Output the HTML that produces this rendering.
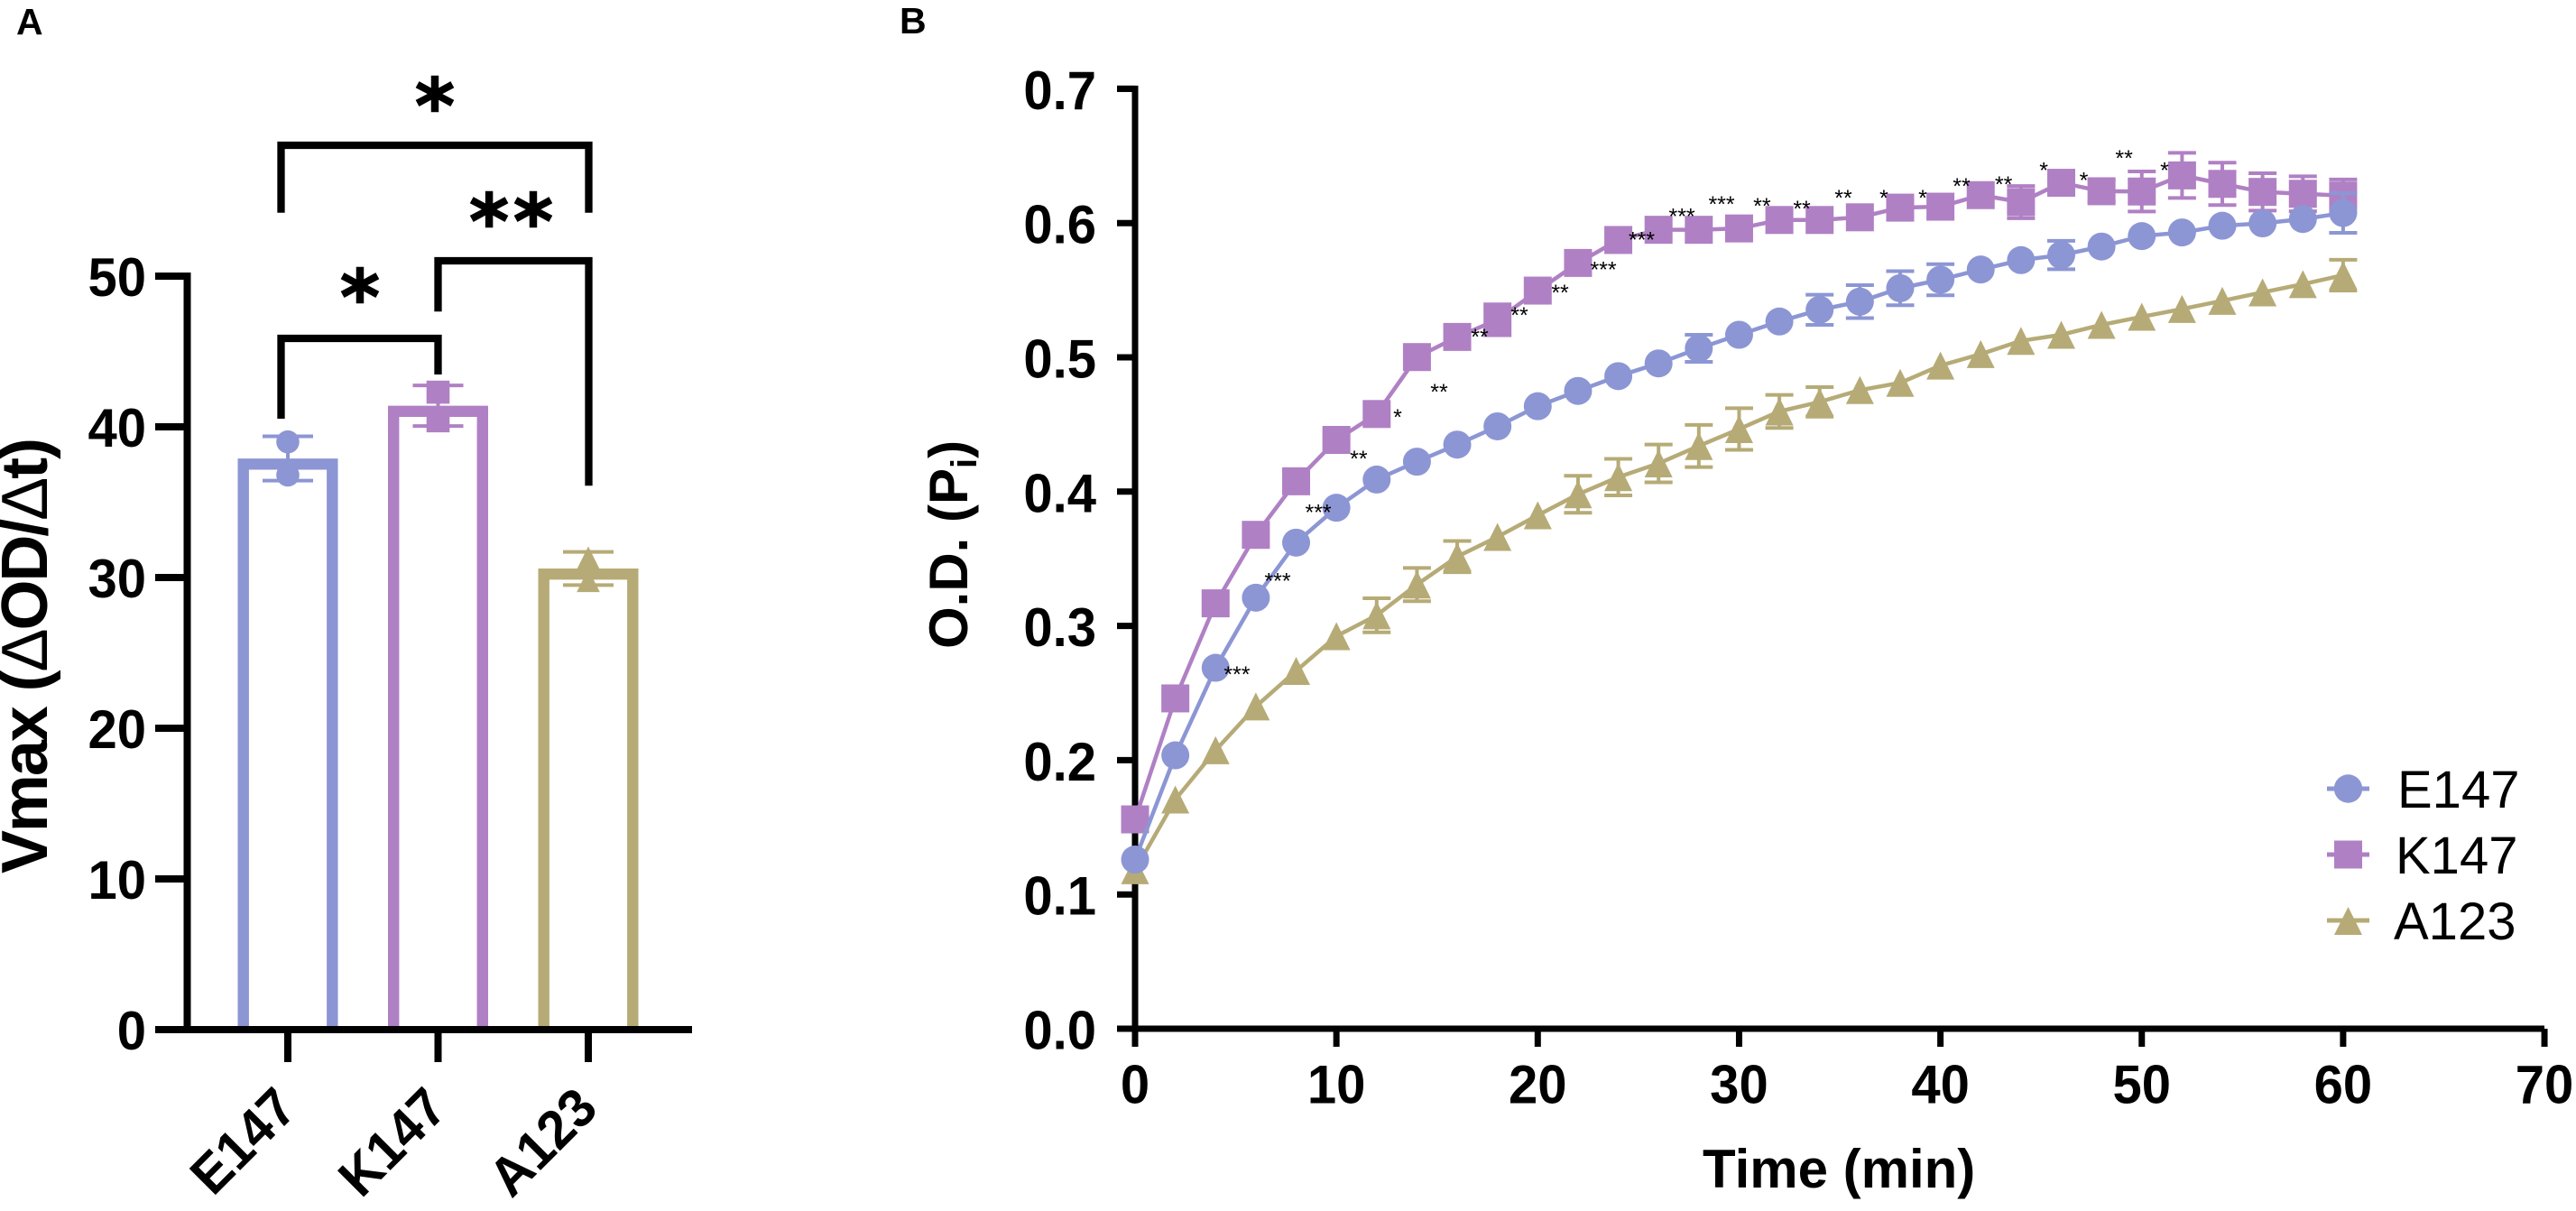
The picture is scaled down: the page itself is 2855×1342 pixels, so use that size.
<!DOCTYPE html>
<html lang="en">
<head>
<meta charset="utf-8">
<title>Vmax bar chart and O.D. time course</title>
<style>
html,body{margin:0;padding:0;background:#fff;}
svg{display:block;}
text{font-family:"Liberation Sans",Arial,sans-serif;fill:#000;}
.tick{font-size:60px;font-weight:bold;}
.title{font-weight:bold;}
.legend{font-size:58px;}
</style>
</head>
<body>
<svg id="figure" xmlns="http://www.w3.org/2000/svg" width="2855" height="1342" viewBox="0 0 2855 1342">
  <rect x="0" y="0" width="2855" height="1342" fill="#ffffff"/>
  <text x="18" y="38" font-size="41" class="title">A</text>
  <text x="997" y="37" font-size="41" class="title">B</text>
  <g id="panelA"></g>
  <g id="panelB"></g>
  <text transform="translate(52,968) rotate(-90)" font-size="72" class="title" textLength="483">Vmax (<tspan font-weight="normal">Δ</tspan>OD/<tspan font-weight="normal">Δ</tspan>t)</text>
  <text transform="translate(1072,719) rotate(-90)" font-size="60" class="title">O.D. (P<tspan font-size="40" dy="10">i</tspan><tspan dy="-10">)</tspan></text>
  <text x="1887" y="1316" font-size="60" class="title">Time (min)</text>
  <g>
    <g>
      <line x1="2579" x2="2626" y1="874" y2="874" stroke="#8c96d4" stroke-width="5"/>
      <circle cx="2602.5" cy="874" r="15.7" fill="#8c96d4"/>
      <text x="2657" y="895" class="legend">E147</text>
    </g>
    <g>
      <line x1="2579" x2="2626" y1="947" y2="947" stroke="#ae80c2" stroke-width="5"/>
      <rect x="2587" y="931.5" width="31" height="31" fill="#b080c4"/>
      <text x="2655" y="968" class="legend">K147</text>
    </g>
    <g>
      <line x1="2579" x2="2626" y1="1020" y2="1020" stroke="#b6ab76" stroke-width="5"/>
      <path d="M2602.5 1005L2618 1036L2587 1036Z" fill="#b6ab76"/>
      <text x="2653" y="1041" class="legend">A123</text>
    </g>
  </g>
</svg>
<script>
// ---- Panel A data ----
const barCategories = ["E147", "K147", "A123"];
const barMeans = [37.9, 41.4, 30.6];
const barErrors = [1.47, 1.35, 1.1];
const barPointsE147 = [39.0, 36.8];
const barPointsK147 = [42.3, 40.4];
const barPointsA123 = [31.3, 29.8];
const barTickLabels = ["0", "10", "20", "30", "40", "50"];
const barTickValues = [0, 10, 20, 30, 40, 50];

// ---- Panel B data ----
const times = [0,2,4,6,8,10,12,14,16,18,20,22,24,26,28,30,32,34,36,38,40,42,44,46,48,50,52,54,56,58,60];
const e147Values = [0.126,0.2036,0.2688,0.321,0.362,0.388,0.409,0.4223,0.435,0.4486,0.4636,0.475,0.486,0.4955,0.5067,0.5168,0.5267,0.5354,0.5415,0.5515,0.5578,0.5654,0.5724,0.5762,0.5825,0.5903,0.593,0.598,0.5998,0.603,0.6075];
const e147Errors = [0,0,0,0,0,0,0,0,0,0,0,0,0,0,0.0101,0,0,0.0112,0.0123,0.0127,0.0116,0,0,0.0106,0,0,0,0,0,0,0.0148];
const k147Values = [0.1559,0.246,0.3168,0.3678,0.4077,0.4385,0.4578,0.5002,0.5152,0.528,0.5497,0.5703,0.5874,0.595,0.595,0.596,0.6023,0.6023,0.6043,0.6115,0.6122,0.6208,0.6156,0.63,0.6237,0.6235,0.6355,0.6292,0.6232,0.6218,0.6205];
const k147Errors = [0,0,0,0,0,0,0,0,0,0.0115,0,0,0,0,0,0,0,0,0,0,0,0,0.012,0.008,0.008,0.0149,0.0168,0.0158,0.0139,0.013,0.012];
const a123Values = [0.118,0.1707,0.2074,0.24,0.2665,0.2923,0.3079,0.3308,0.3516,0.3663,0.3824,0.398,0.4108,0.421,0.434,0.4466,0.4597,0.4668,0.4756,0.481,0.4939,0.5024,0.5123,0.5168,0.5242,0.5302,0.536,0.5421,0.5484,0.5545,0.5612];
const a123Errors = [0,0,0,0,0,0,0.0127,0.0124,0.0116,0,0,0.0138,0.0136,0.0141,0.0157,0.0155,0.0123,0.011,0,0,0,0,0,0,0,0,0,0,0,0,0.0115];
const xTickValues = [0,10,20,30,40,50,60,70];
const xTickLabels = ["0","10","20","30","40","50","60","70"];
const yTickValues = [0,0.1,0.2,0.3,0.4,0.5,0.6,0.7];
const yTickLabels = ["0.0","0.1","0.2","0.3","0.4","0.5","0.6","0.7"];
const starLabels = ["***","***","***","**","*","**","**","**","**","***","***","***","***","**","**","**","*","*","**","**","*","*","**","*"];
const starTimes = [5.06,7.08,9.10,11.11,13.04,15.10,17.12,19.09,21.11,23.26,25.16,27.16,29.13,31.14,33.12,35.18,37.19,39.12,41.05,43.14,45.13,47.12,49.12,51.13];
const starValues = [0.2675,0.3369,0.3881,0.4281,0.459,0.4778,0.5188,0.5349,0.5517,0.5689,0.5909,0.6085,0.6176,0.6163,0.6144,0.6223,0.6223,0.6223,0.631,0.6324,0.6427,0.6353,0.6519,0.6427];

const NS = "http://www.w3.org/2000/svg";
const COLOR_E = "#8c96d4";
const COLOR_K = "#b080c4";
const COLOR_A = "#b6ab76";

function mk(tag, attrs, parent) {
  const node = document.createElementNS(NS, tag);
  for (const k in attrs) node.setAttribute(k, attrs[k]);
  parent.appendChild(node);
  return node;
}
function marker(shape, cx, cy, s, fill, parent) {
  const h = s / 2;
  if (shape === "circle") return mk("circle", {cx: cx, cy: cy, r: h, fill: fill}, parent);
  if (shape === "square") return mk("rect", {x: cx - h, y: cy - h, width: s, height: s, fill: fill}, parent);
  return mk("path", {d: "M" + cx + " " + (cy - h) + "L" + (cx + h) + " " + (cy + h) + "L" + (cx - h) + " " + (cy + h) + "Z", fill: fill}, parent);
}
// Tick digits in the reference are slightly narrower than Liberation at this height.
function narrow(textNode) {
  textNode.setAttribute("textLength", textNode.getComputedTextLength() * 0.967);
  textNode.setAttribute("lengthAdjust", "spacingAndGlyphs");
}

// ---------- Panel A ----------
(function () {
  const root = document.getElementById("panelA");
  const yA = v => 1141 - v * 16.7;
  const xA = i => 319 + i * 166.5;
  const colors = [COLOR_E, COLOR_K, COLOR_A];
  const shapes = ["circle", "square", "triangle"];
  const points = [barPointsE147, barPointsK147, barPointsA123];
  const sw = 12.4, outer = 111;

  barCategories.forEach(function (cat, i) {
    const g = mk("g", {}, root);
    
    
    const bar = mk("path", {
      d: "M" + (xA(i) - outer / 2 + sw / 2) + " " + yA(0) +
         "V" + (yA(barMeans[i]) + sw / 2) +
         "H" + (xA(i) + outer / 2 - sw / 2) + "V" + yA(0),
      fill: "none", stroke: colors[i], "stroke-width": sw
    }, g);
    
    
    const top = yA(barMeans[i] + barErrors[i]), bot = yA(barMeans[i] - barErrors[i]);
    const err = mk("path", {
      d: "M" + (xA(i) - 28) + " " + top + "H" + (xA(i) + 28) + "M" + xA(i) + " " + top + "V" + bot + "M" + (xA(i) - 28) + " " + bot + "H" + (xA(i) + 28),
      fill: "none", stroke: colors[i], "stroke-width": 4
    }, g);
    
    
    points[i].forEach(function (v) {
      const p = marker(shapes[i], xA(i), yA(v), 25.6, colors[i], g);
      
      
    });
  });

  const axes = mk("path", {
    d: "M172 " + yA(50) + "H207.5V" + yA(0) + "M172 " + yA(0) + "H767",
    fill: "none", stroke: "#000", "stroke-width": 8
  }, root);
  
  

  barTickValues.forEach(function (v, i) {
    const t = mk("line", {x1: 172, x2: 207, y1: yA(v), y2: yA(v), stroke: "#000", "stroke-width": 8}, root);
    
    
    const l = mk("text", {x: 162, y: yA(v) + 22, "text-anchor": "end", "class": "tick"}, root);
    l.textContent = barTickLabels[i];
    
    
    narrow(l);
  });
  barCategories.forEach(function (cat, i) {
    const t = mk("line", {x1: xA(i), x2: xA(i), y1: yA(0), y2: 1177, stroke: "#000", "stroke-width": 8}, root);
    
    
    const l = mk("text", {transform: "translate(" + (xA(i) + 13) + ",1231) rotate(-45)", "text-anchor": "end", "class": "tick"}, root);
    l.textContent = cat;
    
    
    narrow(l);
  });

  const b1 = mk("path", {d: "M311.5 235.7V161H652.5V235.7", fill: "none", stroke: "#000", "stroke-width": 8.3}, root);
  
  
  const b2 = mk("path", {d: "M485.5 345.3V289H652.5V538.3", fill: "none", stroke: "#000", "stroke-width": 8.3}, root);
  
  
  const b3 = mk("path", {d: "M311.5 464V375H485.5V415", fill: "none", stroke: "#000", "stroke-width": 8.3}, root);
  
  

  const s1 = mk("text", {x: 482, y: 147, "text-anchor": "middle", "font-size": 84, "font-weight": "bold", stroke: "#000", "stroke-width": 1.5, style: 'font-family:"DejaVu Sans",sans-serif'}, root);
  s1.textContent = "*";
  
  
  const s2 = mk("text", {x: 569, y: 275, "text-anchor": "middle", "font-size": 84, "font-weight": "bold", "letter-spacing": 5, stroke: "#000", "stroke-width": 1.5, style: 'font-family:"DejaVu Sans",sans-serif'}, root);
  s2.textContent = "**";
  
  
  const s3 = mk("text", {x: 399, y: 359, "text-anchor": "middle", "font-size": 84, "font-weight": "bold", stroke: "#000", "stroke-width": 1.5, style: 'font-family:"DejaVu Sans",sans-serif'}, root);
  s3.textContent = "*";
  
  
})();

// ---------- Panel B ----------
(function () {
  const root = document.getElementById("panelB");
  const xB = t => 1258 + t * 22.315;
  const yB = v => 1140 - v * 1488;
  const size = 31;

  const axes = mk("path", {
    d: "M1238 " + yB(0.7) + "H1258V" + yB(0) + "M1238 " + yB(0) + "H2820",
    fill: "none", stroke: "#000", "stroke-width": 7
  }, root);
  
  

  xTickValues.forEach(function (v, i) {
    const t = mk("line", {x1: xB(v), x2: xB(v), y1: yB(0), y2: 1160, stroke: "#000", "stroke-width": 7}, root);
    
    
    const l = mk("text", {x: xB(v), y: 1222.5, "text-anchor": "middle", "class": "tick"}, root);
    l.textContent = xTickLabels[i];
    
    
    narrow(l);
  });
  yTickValues.forEach(function (v, i) {
    const t = mk("line", {x1: 1238, x2: 1258, y1: yB(v), y2: yB(v), stroke: "#000", "stroke-width": 7}, root);
    
    
    const l = mk("text", {x: 1215, y: yB(v) + 22.5, "text-anchor": "end", "class": "tick"}, root);
    l.textContent = yTickLabels[i];
    
    
    narrow(l);
  });

  function drawSeries(key, values, errors, color, shape) {
    const g = mk("g", {}, root);
    
    
    const line = mk("path", {
      d: values.map((v, i) => (i ? "L" : "M") + xB(times[i]) + " " + yB(v)).join(""),
      fill: "none", stroke: color, "stroke-width": 4.5, "stroke-linejoin": "round"
    }, g);
    
    
    values.forEach(function (v, i) {
      if (errors[i] <= 0) return;
      const x = xB(times[i]);
      const a = yB(v + errors[i]), b = yB(v - errors[i]);
      const e = mk("path", {
        d: "M" + (x - 15.5) + " " + a + "H" + (x + 15.5) + "M" + x + " " + a + "V" + b + "M" + (x - 15.5) + " " + b + "H" + (x + 15.5),
        fill: "none", stroke: color, "stroke-width": 4
      }, g);
      
      
    });
    values.forEach(function (v, i) {
      const m = marker(shape, xB(times[i]), yB(v), size, color, g);
      
      
    });
  }
  drawSeries("a123", a123Values, a123Errors, COLOR_A, "triangle");
  drawSeries("k147", k147Values, k147Errors, COLOR_K, "square");
  drawSeries("e147", e147Values, e147Errors, COLOR_E, "circle");

  starLabels.forEach(function (s, i) {
    const t = mk("text", {x: xB(starTimes[i]), y: yB(starValues[i]) + 14, "text-anchor": "middle", "font-size": 25}, root);
    t.textContent = s;
    
    
  });
})();
</script>
</body>
</html>
